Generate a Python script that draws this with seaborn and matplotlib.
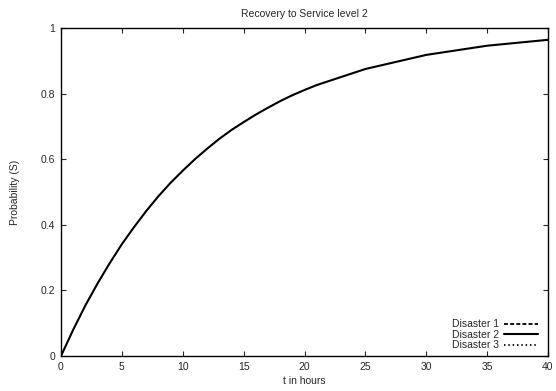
import numpy as np
import pandas as pd
import matplotlib
matplotlib.use("Agg")
import matplotlib.pyplot as plt
import seaborn as sns
from matplotlib.ticker import FuncFormatter

t_hours = [0, 1, 2, 3, 4, 5, 6, 7, 8, 9, 10, 11, 12, 13, 14, 15, 16, 17, 18, 19, 20, 21, 25, 30, 35, 40]
disaster2 = [0.0, 0.080, 0.154, 0.221, 0.283, 0.341, 0.393, 0.442, 0.487, 0.528, 0.565, 0.600,
             0.632, 0.662, 0.689, 0.713, 0.736, 0.757, 0.777, 0.795, 0.811, 0.826, 0.875, 0.918,
             0.946, 0.964]
t_flat = [0, 40]
disaster1 = [1.0, 1.0]
disaster3 = [1.0, 1.0]

sns.set_style("white")
plt.rcParams['font.family'] = ['Liberation Sans', 'DejaVu Sans']

fig = plt.figure(figsize=(5.56, 3.91), dpi=100)
ax = fig.add_axes([61/556, 1-356/391, (548-61)/556, (356-28)/391])

df1 = pd.DataFrame({"t": t_flat, "p": disaster1})
df2 = pd.DataFrame({"t": t_hours, "p": disaster2})
df3 = pd.DataFrame({"t": t_flat, "p": disaster3})

sns.lineplot(data=df1, x="t", y="p", ax=ax, color="black", lw=1.3, linestyle=(0, (2.2, 1.2)), label="Disaster 1")
sns.lineplot(data=df2, x="t", y="p", ax=ax, color="black", lw=1.5, linestyle="-", label="Disaster 2")
sns.lineplot(data=df3, x="t", y="p", ax=ax, color="black", lw=1.3, linestyle=(0, (0.8, 1.6)), label="Disaster 3")

fs = 7.5
ax.set_xlim(0, 40)
ax.set_ylim(0, 1)
ax.set_xticks([0, 5, 10, 15, 20, 25, 30, 35, 40])
ax.set_yticks([0, 0.2, 0.4, 0.6, 0.8, 1])
ax.yaxis.set_major_formatter(FuncFormatter(lambda v, p: f"{v:g}"))
ax.tick_params(direction="in", length=3.5, width=0.8, labelsize=fs, top=True, right=True,
               bottom=True, left=True, pad=4)
for s in ax.spines.values():
    s.set_color("black")
    s.set_linewidth(1.0)
ax.set_xlabel("t in hours", fontsize=fs, labelpad=3)
ax.set_ylabel("Probability (S)", fontsize=fs, labelpad=15)
ax.set_title("Recovery to Service level 2", fontsize=fs, pad=8)

leg = ax.legend(loc="lower right", bbox_to_anchor=(0.992, 0.0), frameon=False, fontsize=fs,
                markerfirst=False, handlelength=3.3, handletextpad=0.5, labelspacing=0.05,
                borderaxespad=0.15)

fig.savefig("out.png", dpi=100)
